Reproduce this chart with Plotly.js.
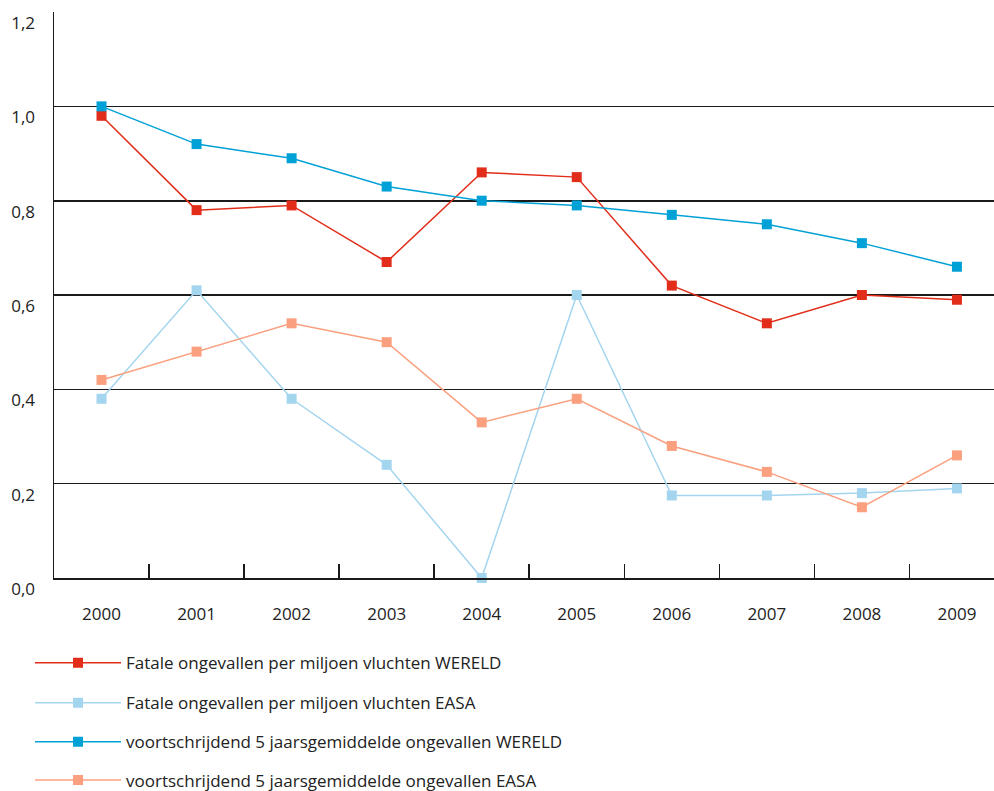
<!DOCTYPE html>
<html>
<head>
<meta charset="utf-8">
<script src="https://cdn.plot.ly/plotly-3.0.1.min.js"></script>
<style>html,body{margin:0;padding:0;background:#fff;}#chart{width:994px;height:791px;}</style>
</head>
<body>
<div id="chart"></div>
<script>
const years = ["2000","2001","2002","2003","2004","2005","2006","2007","2008","2009"];
const wereld = [0.98, 0.78, 0.79, 0.67, 0.86, 0.85, 0.62, 0.54, 0.60, 0.59];
const easa = [0.38, 0.61, 0.38, 0.24, 0.00, 0.60, 0.175, 0.175, 0.18, 0.19];
const wereldAvg = [1.00, 0.92, 0.89, 0.83, 0.80, 0.79, 0.77, 0.75, 0.71, 0.66];
const easaAvg = [0.42, 0.48, 0.54, 0.50, 0.33, 0.38, 0.28, 0.225, 0.15, 0.26];
const names = [
  "Fatale ongevallen per miljoen vluchten WERELD",
  "Fatale ongevallen per miljoen vluchten EASA",
  "voortschrijdend 5 jaarsgemiddelde ongevallen WERELD",
  "voortschrijdend 5 jaarsgemiddelde ongevallen EASA"
];
const colors = ["#e12d1a", "#a4d5ee", "#00a1d6", "#fba07f"];
const series = [wereld, easa, wereldAvg, easaAvg];
const legendIds = ["legend", "legend2", "legend3", "legend4"];

const traces = series.map((vals, i) => ({
  type: "scatter",
  mode: "lines+markers",
  x: years,
  y: vals,
  name: names[i],
  legend: legendIds[i],
  line: {color: colors[i], width: 1.5},
  marker: {symbol: "square", size: 10, color: colors[i]},
  cliponaxis: false
}));

const font = {family: "Open Sans, sans-serif", size: 17, color: "#222"};
const legendBase = {
  x: -0.0255, xanchor: "left", yanchor: "middle",
  bgcolor: "rgba(0,0,0,0)", borderwidth: 0,
  font: font, itemwidth: 86
};
const legendY = [663, 703, 742, 780].map(p => (578 - p) / 565);

const layout = {
  width: 994, height: 791,
  margin: {l: 54, r: 0, t: 12, b: 213, autoexpand: false},
  paper_bgcolor: "#fff", plot_bgcolor: "#fff",
  font: font,
  xaxis: {
    type: "category",
    range: [-0.5, 9.39],
    showgrid: false,
    zeroline: false,
    showline: true, linecolor: "#1a1a1a", linewidth: 1.5,
    ticks: "inside", tickson: "boundaries", ticklen: 14, tickwidth: 1.5, tickcolor: "#1a1a1a",
    ticklabelstandoff: 20,
    tickfont: {family: "Open Sans, sans-serif", size: 17, color: "#222"}
  },
  yaxis: {
    range: [0, 1.2001],
    dtick: 0.2, tick0: 0,
    tickformat: ".1f",
    showgrid: true, gridcolor: "#1a1a1a", gridwidth: 1.6,
    zeroline: false,
    showline: true, linecolor: "#1a1a1a", linewidth: 1.5,
    ticks: "",
    ticklabelshift: 11,
    ticklabelstandoff: 14,
    tickfont: {family: "Open Sans, sans-serif", size: 17, color: "#222"}
  },
  separators: ",.",
  showlegend: true,
  legend: Object.assign({}, legendBase, {y: legendY[0]}),
  legend2: Object.assign({}, legendBase, {y: legendY[1]}),
  legend3: Object.assign({}, legendBase, {y: legendY[2]}),
  legend4: Object.assign({}, legendBase, {y: legendY[3]})
};

Plotly.newPlot("chart", traces, layout, {displayModeBar: false, staticPlot: true});
</script>
</body>
</html>
